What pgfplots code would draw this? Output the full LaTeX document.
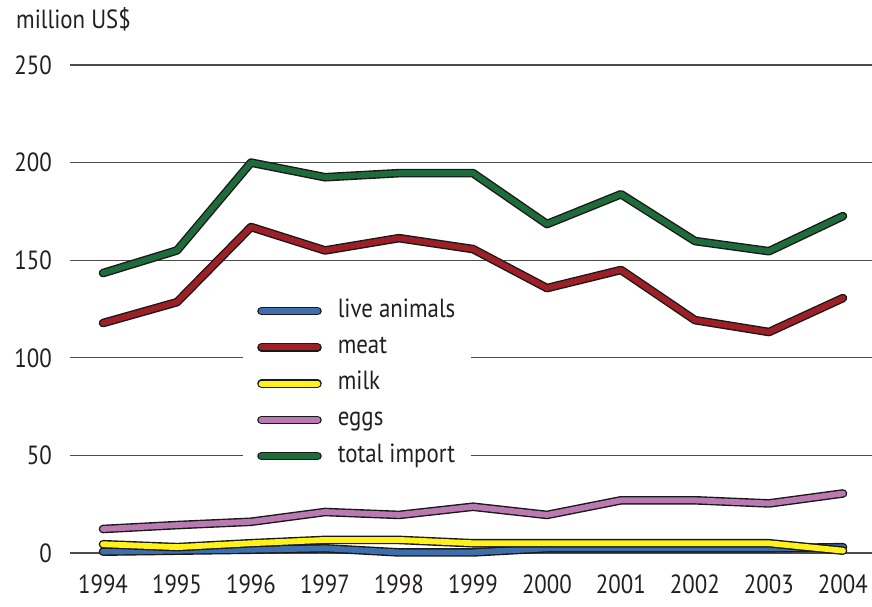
\documentclass[border=0pt]{standalone}
\usepackage{fontspec}
\setmainfont[FakeStretch=0.87]{PT Sans}
\usepackage{pgfplots}
\pgfplotsset{compat=1.18}

\definecolor{cLive}{HTML}{3F6EAD}
\definecolor{cMeat}{HTML}{9E1F25}
\definecolor{cMilk}{HTML}{FFF11A}
\definecolor{cEggs}{HTML}{BA7AB1}
\definecolor{cTotal}{HTML}{1E6B3B}
\definecolor{txt}{HTML}{231F20}

\pgfplotsset{
  ser/.style={draw=black!90, line width=1.4pt, double=#1, double distance=5.8pt,
              line cap=round, line join=round},
}

\begin{document}
\begin{tikzpicture}[x=1pt,y=1pt]
\useasboundingbox (0,0) rectangle (872,606);
\node[anchor=base west, inner sep=0pt, text=txt, font=\fontsize{26.3}{30}\selectfont] at (16,577) {million US\$};
\begin{axis}[
  at={(70pt,53pt)}, anchor=south west,
  scale only axis, width=802pt, height=488pt,
  xmin=1993.554, xmax=2004.392, ymin=0, ymax=250,
  axis line style={draw=none},
  major tick length=0pt,
  ymajorgrids, grid style={draw=black!70, line width=1.2pt},
  xtick={1994,...,2004}, ytick={0,50,...,250},
  /pgf/number format/assume math mode=true,
  /pgf/number format/1000 sep={},
  tick label style={text=txt, font=\fontsize{26.3}{30}\selectfont},
  xticklabel style={anchor=north, inner sep=0pt, yshift=-22pt},
  yticklabel style={anchor=east, inner sep=0pt, xshift=-18pt},
  clip=false,
  legend cell align=left,
  legend image code/.code={\draw[#1] (0pt,0pt) -- (56pt,0pt);},
  legend style={at={(rel axis cs:0.2157,0.537)}, anchor=north west,
    draw=none, fill=white, inner xsep=14pt, inner ysep=6pt,
    row sep=8.25pt, column sep=14pt, text=txt, font=\fontsize{26.3}{30}\selectfont,
    nodes={inner sep=2pt, text height=18pt, text depth=6pt}},
]
\addplot[ser=cLive] coordinates {(1994,0.7) (1995,1.2) (1996,1.7) (1997,2.4) (1998,0.3) (1999,0.3) (2000,2.4) (2001,2.4) (2002,2.4) (2003,2.4) (2004,3.0)};
\addlegendentry{live animals}
\addplot[ser=cMeat] coordinates {(1994,117.8) (1995,128.5) (1996,167) (1997,155) (1998,161.3) (1999,155.7) (2000,135.7) (2001,145) (2002,119.3) (2003,113.2) (2004,130.6)};
\addlegendentry{meat}
\addplot[ser=cMilk] coordinates {(1994,4.5) (1995,3) (1996,5) (1997,6.7) (1998,6.7) (1999,5) (2000,5) (2001,5) (2002,5) (2003,5) (2004,1.2)};
\addlegendentry{milk}
\addplot[ser=cEggs] coordinates {(1994,12.3) (1995,14.3) (1996,16) (1997,21) (1998,19.5) (1999,23.7) (2000,19.5) (2001,27) (2002,27) (2003,25.4) (2004,30.5)};
\addlegendentry{eggs}
\addplot[ser=cTotal] coordinates {(1994,143.4) (1995,155) (1996,200) (1997,192.5) (1998,194.6) (1999,194.6) (2000,168.5) (2001,183.8) (2002,159.8) (2003,154.6) (2004,172.6)};
\addlegendentry{total import}
\end{axis}
\end{tikzpicture}
\end{document}
